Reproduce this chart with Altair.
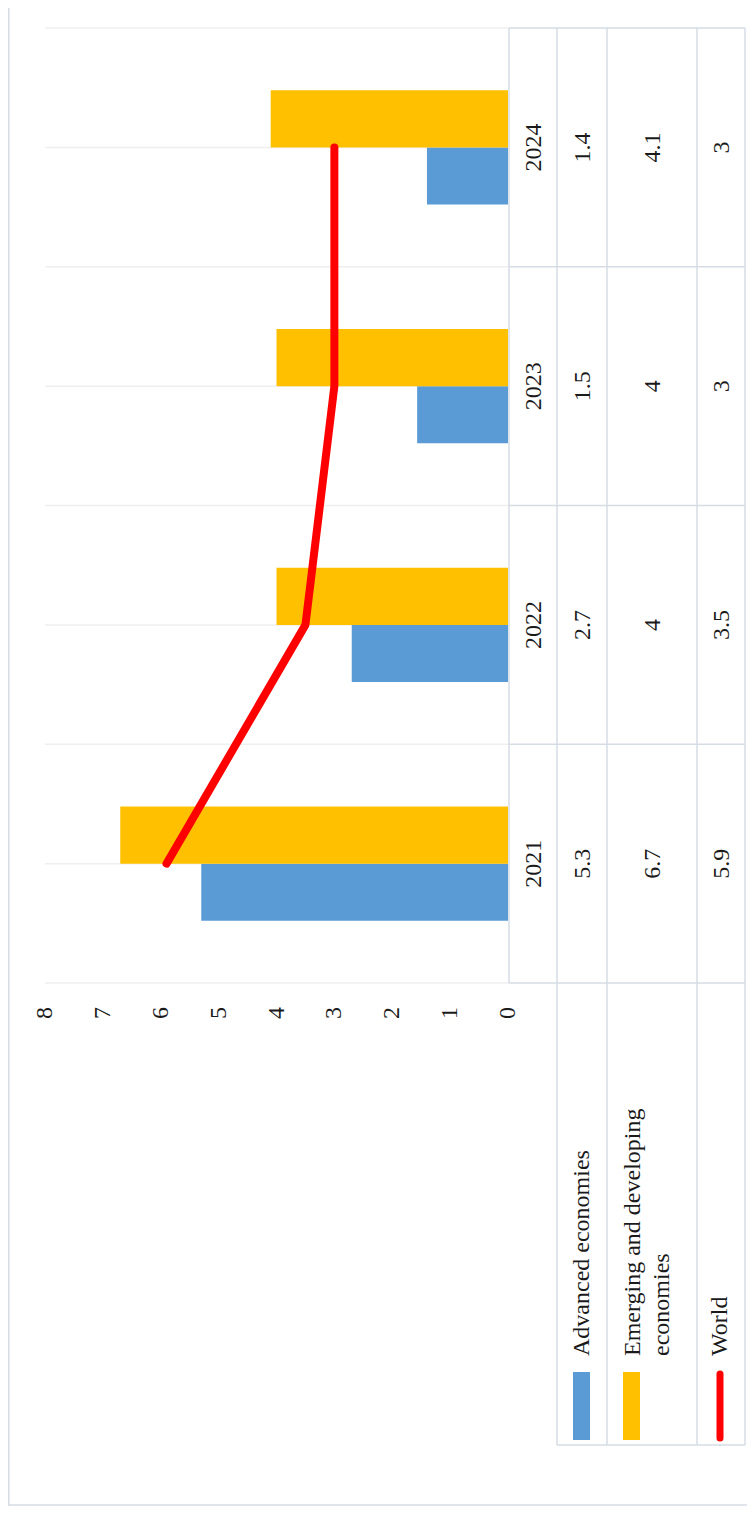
import altair as alt
import pandas as pd

# ---------------- data ----------------
years = ["2021", "2022", "2023", "2024"]
advanced = [5.3, 2.7, 1.57, 1.4]
emerging = [6.7, 4.0, 4.0, 4.1]
world = [5.9, 3.5, 3.0, 3.0]
advanced_labels = ["5.3", "2.7", "1.5", "1.4"]
emerging_labels = ["6.7", "4", "4", "4.1"]
world_labels = ["5.9", "3.5", "3", "3"]
series_names = ["Advanced economies", "Emerging and developing economies", "World"]
series_colors = ["#5B9BD5", "#FFC000", "#FF0000"]
value_ticks = [0, 1, 2, 3, 4, 5, 6, 7, 8]
legend_lines = [["Advanced economies"], ["Emerging and developing", "economies"], ["World"]]

# ---------------- layout ----------------
W, H = 739, 1498
FONT = "'Liberation Serif', 'Times New Roman', 'DejaVu Serif', serif"
FS = 24
TXT = "#1a1a1a"
TABLE = "#D6DCE4"
GRID = "#EFEFEF"

PLOT_L, PLOT_R = 37, 500          # value 8 -> left, value 0 -> right
BAND_T, BAND_B = 20, 975
COLS = [501, 549, 599, 689, 737]  # table column edges
LEG_B = 1437

years_top = years[::-1]

xs = alt.Scale(domain=[0, 8], range=[PLOT_R, PLOT_L], nice=False, zero=True)
ys = alt.Scale(domain=years_top, range=[BAND_T, BAND_B], paddingInner=0, paddingOuter=0)

rows = []
for i, y in enumerate(years):
    rows.append({"year": y, "series": series_names[0], "value": advanced[i], "idx": i})
    rows.append({"year": y, "series": series_names[1], "value": emerging[i], "idx": i})
bars_df = pd.DataFrame(rows)
world_df = pd.DataFrame({"year": years, "value": world, "idx": list(range(len(years)))})
year_df = pd.DataFrame({"year": years})
tick_df = pd.DataFrame({"t": value_ticks})
one = pd.DataFrame({"a": [0]})

layers = []

# gridlines at band edges and centres (plot area)
for bp in (0, 0.5):
    layers.append(
        alt.Chart(year_df).mark_rule(color=GRID, strokeWidth=1.5).encode(
            y=alt.Y("year:N", scale=ys, axis=None, bandPosition=bp),
            x=alt.value(PLOT_L), x2=alt.value(COLS[0])))
layers.append(
    alt.Chart(year_df[year_df.year == years[0]]).mark_rule(color=GRID, strokeWidth=1.5).encode(
        y=alt.Y("year:N", scale=ys, axis=None, bandPosition=1),
        x=alt.value(PLOT_L), x2=alt.value(COLS[0])))

# bars
layers.append(
    alt.Chart(bars_df).mark_bar().encode(
        x=alt.X("value:Q", scale=xs, axis=None),
        y=alt.Y("year:N", scale=ys, axis=None),
        yOffset=alt.YOffset("series:N", scale=alt.Scale(
            domain=["_pad1", series_names[1], series_names[0], "_pad2"],
            paddingInner=0, paddingOuter=0.094)),
        color=alt.Color("series:N", scale=alt.Scale(domain=series_names[:2], range=series_colors[:2]),
                        legend=None)))

# world line
layers.append(
    alt.Chart(world_df).mark_line(color=series_colors[2], strokeWidth=8, strokeCap="round",
                                  strokeJoin="round").encode(
        x=alt.X("value:Q", scale=xs, axis=None),
        y=alt.Y("year:N", scale=ys, axis=None),
        order=alt.Order("idx:Q")))

# table horizontal lines (band edges)
layers.append(
    alt.Chart(year_df).mark_rule(color=TABLE, strokeWidth=1.5).encode(
        y=alt.Y("year:N", scale=ys, axis=None, bandPosition=0),
        x=alt.value(COLS[0]), x2=alt.value(COLS[-1])))
layers.append(
    alt.Chart(year_df[year_df.year == years[0]]).mark_rule(color=TABLE, strokeWidth=1.5).encode(
        y=alt.Y("year:N", scale=ys, axis=None, bandPosition=1),
        x=alt.value(COLS[0]), x2=alt.value(COLS[-1])))
# table vertical lines
for i, cx in enumerate(COLS):
    y2 = BAND_B if i == 0 else LEG_B
    layers.append(alt.Chart(one).mark_rule(color=TABLE, strokeWidth=1.5).encode(
        x=alt.value(cx), y=alt.value(BAND_T), y2=alt.value(y2)))
layers.append(alt.Chart(one).mark_rule(color=TABLE, strokeWidth=1.5).encode(
    x=alt.value(COLS[1]), x2=alt.value(COLS[-1]), y=alt.value(LEG_B)))

# table texts
text_kw = dict(angle=270, align="center", baseline="middle", font=FONT, fontSize=FS, color=TXT)
layers.append(alt.Chart(year_df).mark_text(**text_kw).encode(
    y=alt.Y("year:N", scale=ys, axis=None), x=alt.value((COLS[0] + COLS[1]) / 2 + 1),
    text="year:N"))
col_labels = [advanced_labels, emerging_labels, world_labels]
for k, labs in enumerate(col_labels):
    d = pd.DataFrame({"year": years, "label": labs})
    layers.append(alt.Chart(d).mark_text(**text_kw).encode(
        y=alt.Y("year:N", scale=ys, axis=None), x=alt.value((COLS[k + 1] + COLS[k + 2]) / 2 + 1),
        text="label:N"))

# value axis labels
layers.append(alt.Chart(tick_df).mark_text(**text_kw).encode(
    x=alt.X("t:Q", scale=xs, axis=None), y=alt.value(1005), text="t:Q"))

# legend
LEG_TXT_Y = 1348
SW_T, SW_B = 1364, 1432
leg_x = [574, 625, 712]
for k in range(3):
    cx0 = leg_x[k]
    for j, line in enumerate(legend_lines[k]):
        layers.append(alt.Chart(pd.DataFrame({"t": [line]})).mark_text(
            angle=270, align="left", baseline="middle", font=FONT, fontSize=FS, color=TXT).encode(
            x=alt.value(cx0 + j * 29), y=alt.value(LEG_TXT_Y), text="t:N"))
for k in range(2):
    cx = [573.5, 623.5][k]
    layers.append(alt.Chart(one).mark_rect(color=series_colors[k]).encode(
        x=alt.value(cx - 8.5), x2=alt.value(cx + 8.5), y=alt.value(SW_T), y2=alt.value(SW_B)))
layers.append(alt.Chart(one).mark_rule(color=series_colors[2], strokeWidth=7, strokeCap="round").encode(
    x=alt.value(712), y=alt.value(SW_T + 2), y2=alt.value(SW_B - 2)))

# outer border (left and bottom)
layers.append(alt.Chart(one).mark_rule(color=TABLE, strokeWidth=1.5).encode(
    x=alt.value(0.75), y=alt.value(0), y2=alt.value(1497)))
layers.append(alt.Chart(one).mark_rule(color=TABLE, strokeWidth=1.5).encode(
    x=alt.value(0), x2=alt.value(W), y=alt.value(1497)))

chart = alt.layer(*layers).properties(
    width=W, height=H, padding=0, autosize=alt.AutoSizeParams(type="none")
).configure_view(stroke=None)

chart.save("out.html", embed_options={"renderer": "svg", "actions": False})
